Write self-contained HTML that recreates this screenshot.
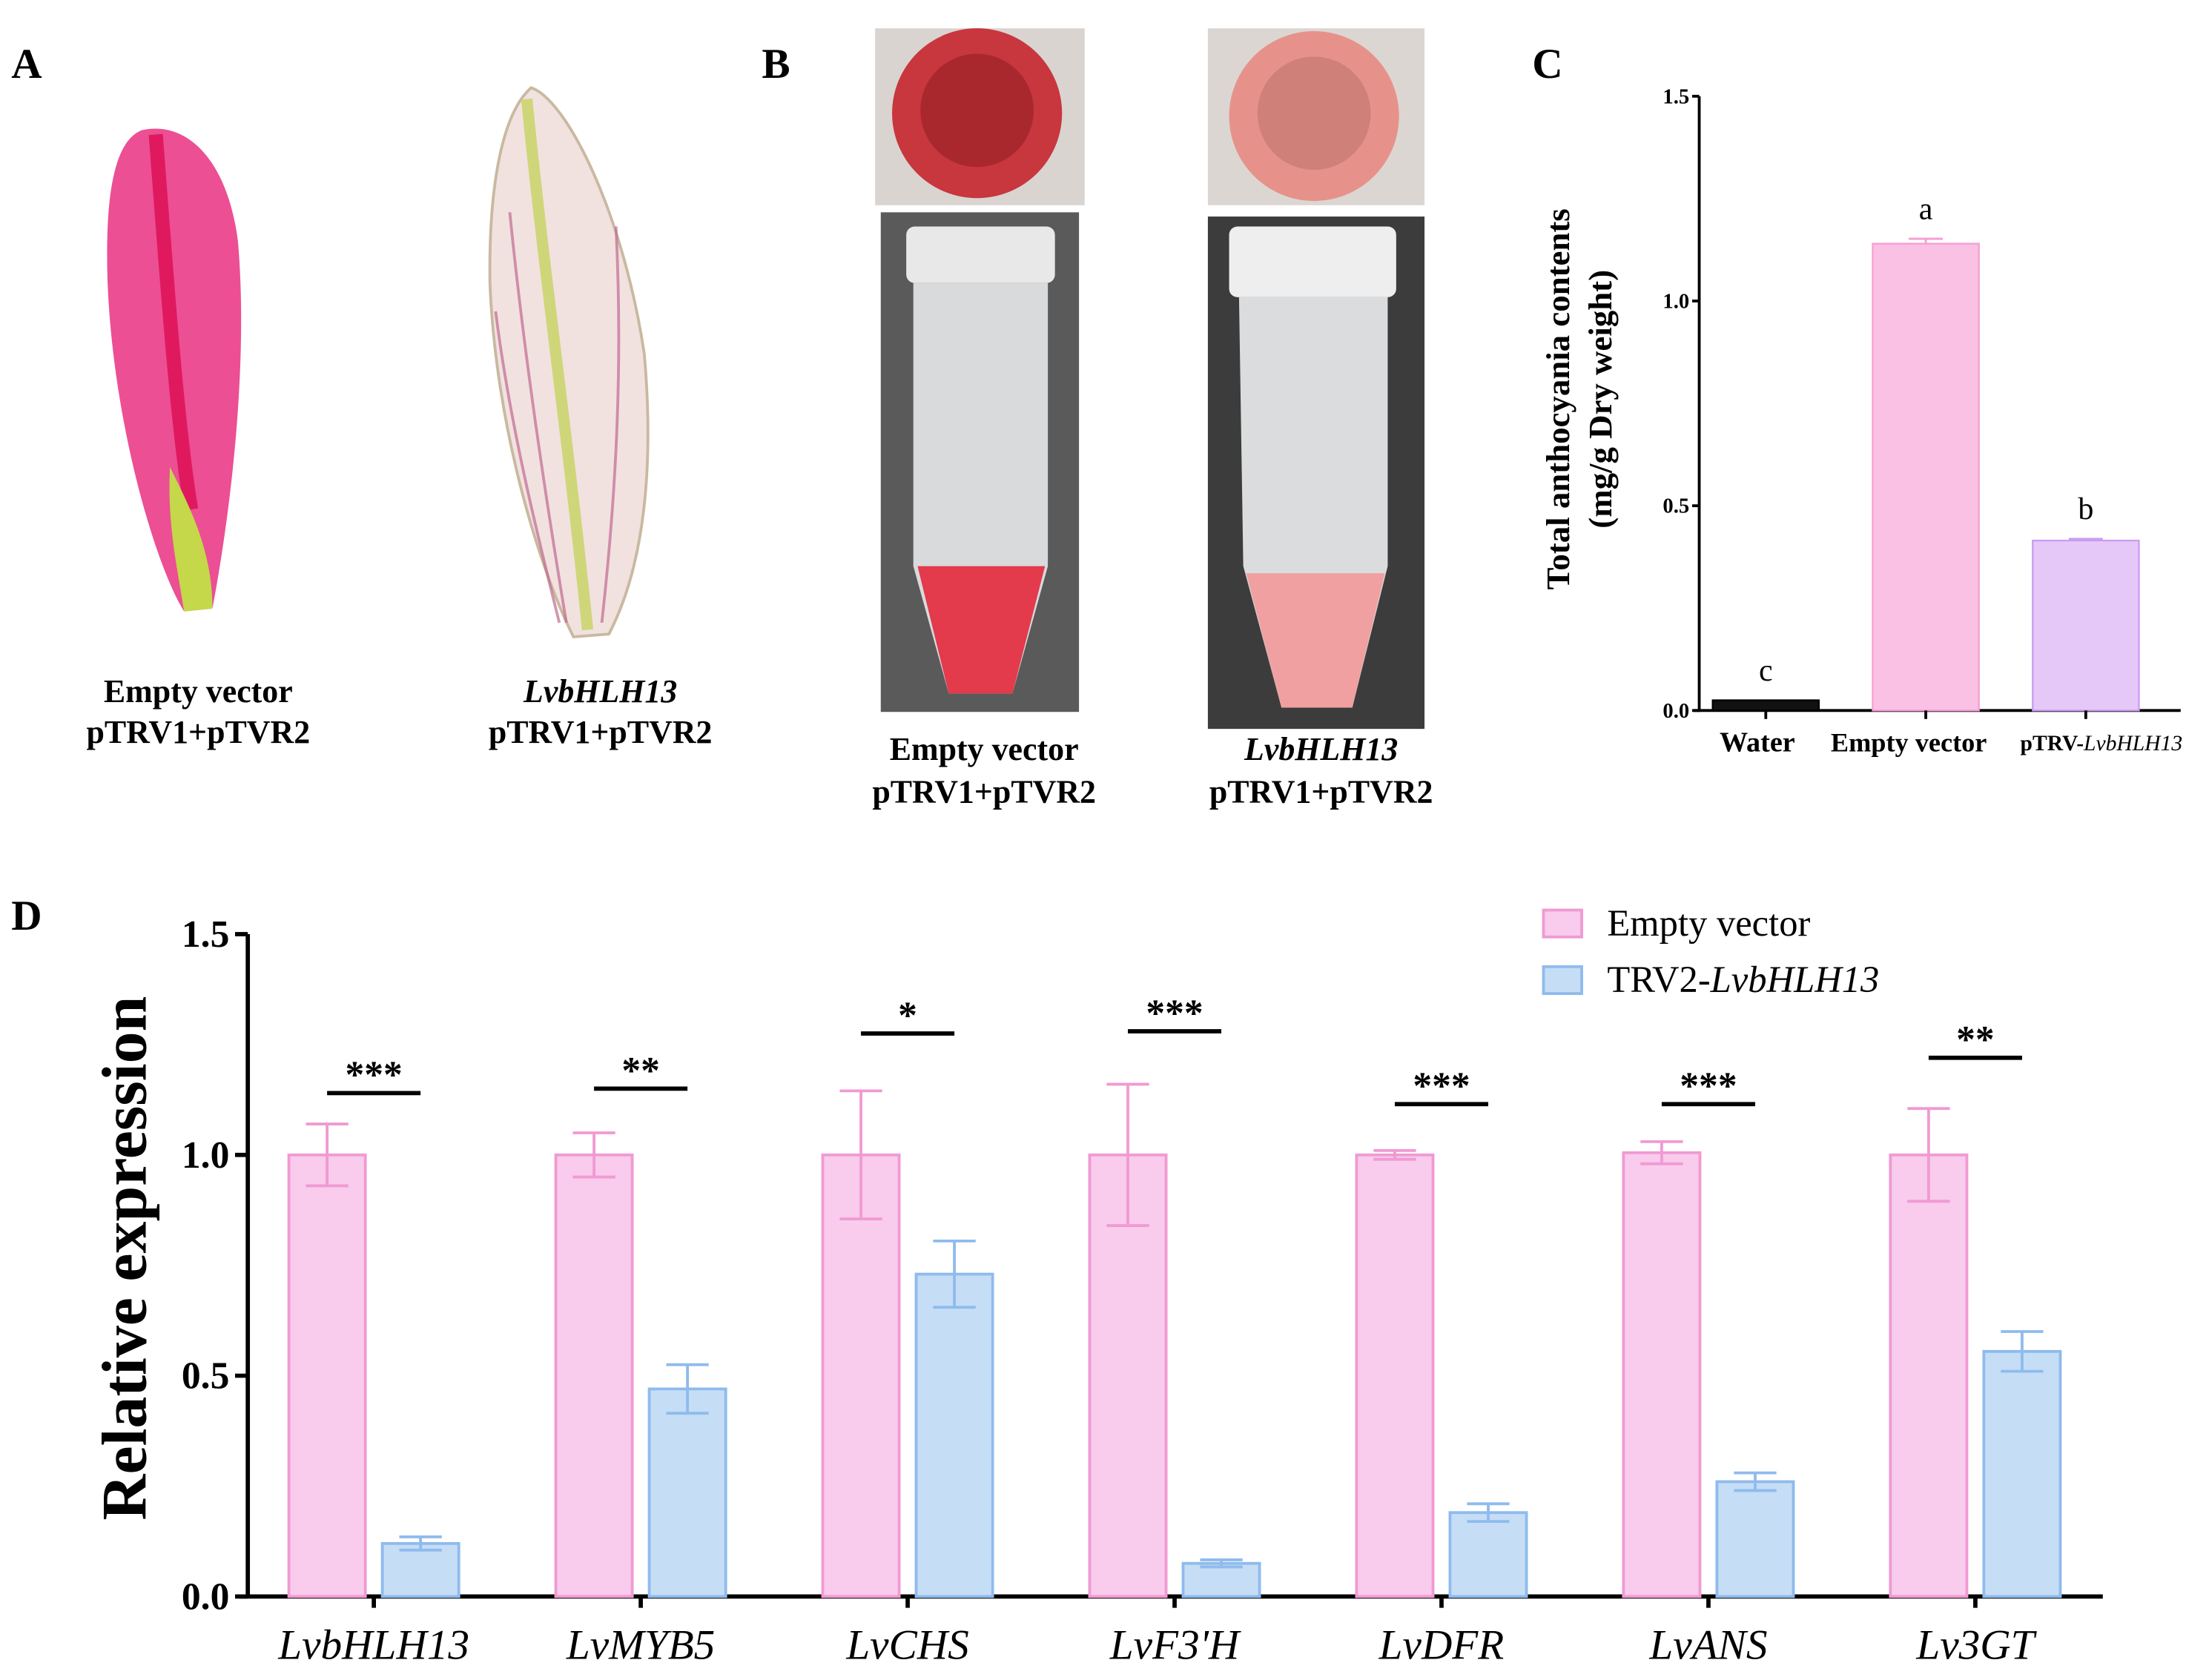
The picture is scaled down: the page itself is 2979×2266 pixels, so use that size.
<!DOCTYPE html>
<html><head><meta charset="utf-8"><style>
html,body{margin:0;padding:0;background:#fff}
svg{display:block}
text{font-family:"Liberation Serif",serif}
</style></head><body>
<svg id="fig" width="2979" height="2266" viewBox="0 0 1560 1187" preserveAspectRatio="none">
<rect width="1560" height="1187" fill="#fff"/>
<!-- Panel A -->
<text x="8" y="55" font-size="30" font-weight="bold">A</text>
<g>
<path d="M100,92 C130,85 160,110 168,170 C175,250 165,350 150,430 L130,432 C110,400 80,300 76,200 C74,140 80,100 100,92Z" fill="#ec4f93"/>
<path d="M110,95 C118,200 125,300 135,360" stroke="#e0195f" stroke-width="10" fill="none"/>
<path d="M120,330 C135,360 150,390 150,430 L130,432 C125,400 118,370 120,330Z" fill="#c4d84a"/>
</g>
<g>
<path d="M375,62 C400,70 440,150 455,250 C462,330 455,400 430,448 L405,450 C380,400 350,300 346,200 C345,130 355,80 375,62Z" fill="#f1e2e0" stroke="#c9b9a0" stroke-width="2"/>
<path d="M372,70 C385,200 400,300 415,445" stroke="#cfd67a" stroke-width="8" fill="none"/>
<path d="M360,150 C370,250 385,350 400,440 M435,160 C440,260 435,350 425,440 M350,220 C360,300 380,380 395,440" stroke="#c06a90" stroke-width="2" fill="none" opacity="0.7"/>
</g>
<text x="140" y="496" font-size="23" font-weight="bold" text-anchor="middle">Empty vector</text>
<text x="140" y="525" font-size="23" font-weight="bold" text-anchor="middle">pTRV1+pTVR2</text>
<text x="424" y="496" font-size="23" font-weight="bold" font-style="italic" text-anchor="middle">LvbHLH13</text>
<text x="424" y="525" font-size="23" font-weight="bold" text-anchor="middle">pTRV1+pTVR2</text>
<!-- Panel B -->
<text x="538" y="55" font-size="30" font-weight="bold">B</text>
<g>
<rect x="618" y="20" width="148" height="125" fill="#d9d4d0"/>
<circle cx="690" cy="80" r="60" fill="#c8363e"/><circle cx="690" cy="78" r="40" fill="#a8282e"/>
</g>
<g>
<rect x="622" y="150" width="140" height="353" fill="#5a5a5a"/>
<rect x="640" y="160" width="105" height="40" rx="6" fill="#e8e8e8"/>
<path d="M645,200 L740,200 L740,400 L715,490 L670,490 L645,400Z" fill="#d8dadc"/>
<path d="M648,400 L738,400 L715,490 L670,490Z" fill="#e33a4c"/>
</g>
<g>
<rect x="853" y="20" width="153" height="125" fill="#dcd6d2"/>
<circle cx="928" cy="82" r="60" fill="#e6928a"/><circle cx="928" cy="80" r="40" fill="#cf8078"/>
</g>
<g>
<rect x="853" y="153" width="153" height="362" fill="#3c3c3c"/>
<rect x="868" y="160" width="118" height="50" rx="6" fill="#eeeeee"/>
<path d="M875,210 L980,210 L980,400 L955,500 L905,500 L878,400Z" fill="#dadcde"/>
<path d="M880,405 L978,405 L955,500 L905,500Z" fill="#f0a0a0"/>
</g>
<text x="695" y="537" font-size="23" font-weight="bold" text-anchor="middle">Empty vector</text>
<text x="695" y="567" font-size="23" font-weight="bold" text-anchor="middle">pTRV1+pTVR2</text>
<text x="933" y="537" font-size="23" font-weight="bold" font-style="italic" text-anchor="middle">LvbHLH13</text>
<text x="933" y="567" font-size="23" font-weight="bold" text-anchor="middle">pTRV1+pTVR2</text>
<text x="1082" y="55" font-size="30" font-weight="bold">C</text>
<text x="8" y="657" font-size="30" font-weight="bold">D</text>
<g id="gC"></g>
<g id="gD"></g>
</svg>
<script>
// Panel C data
const cCats = ["Water","Empty vector","pTRV-LvbHLH13"];
const cVals = [0.025, 1.14, 0.415];
const cErr = [0.0, 0.012, 0.004];
const cLetters = ["c","a","b"];
const cTicks = [0.0, 0.5, 1.0, 1.5];
// Panel D data
const dGenes = ["LvbHLH13","LvMYB5","LvCHS","LvF3'H","LvDFR","LvANS","Lv3GT"];
const dEmpty = [1.0, 1.0, 1.0, 1.0, 1.0, 1.005, 1.0];
const dEmptyErr = [0.07, 0.05, 0.145, 0.16, 0.01, 0.025, 0.105];
const dTrv = [0.12, 0.47, 0.73, 0.075, 0.19, 0.26, 0.555];
const dTrvErr = [0.015, 0.055, 0.075, 0.008, 0.02, 0.02, 0.045];
const dSig = ["***","**","*","***","***","***","**"];
const dSigLevel = [1.14, 1.15, 1.275, 1.28, 1.115, 1.115, 1.22];
const dTicks = [0.0, 0.5, 1.0, 1.5];

const NS="http://www.w3.org/2000/svg";
function mk(parent, tag, attrs, txt){const e=document.createElementNS(NS,tag);for(const k in attrs)e.setAttribute(k,attrs[k]);if(txt!==undefined)e.textContent=txt;parent.appendChild(e);return e;}

// Chart C
(function(){
const g=document.getElementById('gC');
const x0=1200,x1=1540,y0=502,y15=68;
const yS=v=>y0-(y0-y15)*v/1.5;
const xC=i=>1247+i*113;
let e=mk(g,'line',{x1:x0,y1:y15,x2:x0,y2:y0+1,stroke:'#000','stroke-width':2});

e=mk(g,'line',{x1:x0-4,y1:y0,x2:x1,y2:y0,stroke:'#000','stroke-width':2});

cTicks.forEach(t=>{
 mk(g,'line',{x1:x0-5,y1:yS(t),x2:x0,y2:yS(t),stroke:'#000','stroke-width':2});
 e=mk(g,'text',{x:x0-7,y:yS(t)+5,'font-size':15,'font-weight':'bold','text-anchor':'end'},t.toFixed(1));
 
});
const fills=['#111','#fbc1e4','#e5c8f8'],strokes=['#000','#f59ed3','#c99cf0'];
cVals.forEach((v,i)=>{
 const xc=xC(i),w=75;
 e=mk(g,'rect',{x:xc-w/2,y:yS(v),width:w,height:y0-yS(v),fill:fills[i],stroke:strokes[i],'stroke-width':1.2});
 
 if(cErr[i]>0){mk(g,'line',{x1:xc,y1:yS(v),x2:xc,y2:yS(v+cErr[i]),stroke:strokes[i],'stroke-width':1.5});
  mk(g,'line',{x1:xc-12,y1:yS(v+cErr[i]),x2:xc+12,y2:yS(v+cErr[i]),stroke:strokes[i],'stroke-width':1.5});}
 mk(g,'line',{x1:xc,y1:y0,x2:xc,y2:y0+6,stroke:'#000','stroke-width':2});
 e=mk(g,'text',{x:xc,y:yS(v+cErr[i])-14,'font-size':22,'text-anchor':'middle'},cLetters[i]);
 
});
e=mk(g,'text',{x:1241,y:531,'font-size':20,'font-weight':'bold','text-anchor':'middle'},'Water');

e=mk(g,'text',{x:1348,y:531,'font-size':19,'font-weight':'bold','text-anchor':'middle'},'Empty vector');

e=mk(g,'text',{x:1484,y:530,'font-size':15.5,'font-weight':'bold','text-anchor':'middle'});

mk(e,'tspan',{},'pTRV-');mk(e,'tspan',{'font-style':'italic','font-weight':'normal'},'LvbHLH13');
e=mk(g,'text',{transform:'translate(1108,282) rotate(-90)','font-size':23.5,'font-weight':'bold','text-anchor':'middle'},'Total anthocyania contents');

e=mk(g,'text',{transform:'translate(1138,282) rotate(-90)','font-size':23.5,'font-weight':'bold','text-anchor':'middle'},'(mg/g Dry weight)');

})();

// Chart D
(function(){
const g=document.getElementById('gD');
const x0=175,x1=1485,y0=1128,y15=660;
const yS=v=>y0-(y0-y15)*v/1.5;
const pC=i=>231+i*188.5, bC=i=>297+i*188.5, w=54;
let e=mk(g,'line',{x1:x0,y1:y15,x2:x0,y2:y0+1,stroke:'#000','stroke-width':3});

e=mk(g,'line',{x1:x0-6,y1:y0,x2:x1,y2:y0,stroke:'#000','stroke-width':3});

dTicks.forEach(t=>{
 mk(g,'line',{x1:x0-9,y1:yS(t),x2:x0,y2:yS(t),stroke:'#000','stroke-width':3});
 e=mk(g,'text',{x:x0-13,y:yS(t)+9,'font-size':27,'font-weight':'bold','text-anchor':'end'},t.toFixed(1));
 
});
function bar(xc,v,er,fill,stroke,name){
 let r=mk(g,'rect',{x:xc-w/2,y:yS(v),width:w,height:y0-yS(v),fill:fill,stroke:stroke,'stroke-width':2});
 
 mk(g,'line',{x1:xc,y1:yS(v-er),x2:xc,y2:yS(v+er),stroke:stroke,'stroke-width':2});
 mk(g,'line',{x1:xc-15,y1:yS(v+er),x2:xc+15,y2:yS(v+er),stroke:stroke,'stroke-width':2});
 mk(g,'line',{x1:xc-15,y1:yS(v-er),x2:xc+15,y2:yS(v-er),stroke:stroke,'stroke-width':2});
}
dGenes.forEach((gn,i)=>{
 bar(pC(i),dEmpty[i],dEmptyErr[i],'#f9cbec','#f09ad3','d-bar-empty-vector');
 bar(bC(i),dTrv[i],dTrvErr[i],'#c6ddf6','#8fbbed','d-bar-trv2');
 const mid=(pC(i)+bC(i))/2;
 mk(g,'line',{x1:mid,y1:y0,x2:mid,y2:y0+8,stroke:'#000','stroke-width':3});
 e=mk(g,'text',{x:mid,y:1172,'font-size':30,'font-style':'italic','text-anchor':'middle'},gn);
 
 const ys=yS(dSigLevel[i]);
 e=mk(g,'line',{x1:pC(i),y1:ys,x2:bC(i),y2:ys,stroke:'#000','stroke-width':3});
 
 e=mk(g,'text',{x:mid,y:ys-4,'font-size':27,'font-weight':'bold','text-anchor':'middle'},dSig[i]);
 
});
e=mk(g,'text',{transform:'translate(103,889) rotate(-90)','font-size':45,'font-weight':'bold','text-anchor':'middle'},'Relative expression');

e=mk(g,'rect',{x:1090,y:643,width:27,height:19,fill:'#f9cbec',stroke:'#f09ad3','stroke-width':2});

e=mk(g,'text',{x:1135,y:661,'font-size':26.5},'Empty vector');

e=mk(g,'rect',{x:1090,y:683,width:27,height:19,fill:'#c6ddf6',stroke:'#8fbbed','stroke-width':2});

e=mk(g,'text',{x:1135,y:701,'font-size':26.5});

mk(e,'tspan',{},'TRV2-');mk(e,'tspan',{'font-style':'italic'},'LvbHLH13');
})();
</script>
</body></html>
